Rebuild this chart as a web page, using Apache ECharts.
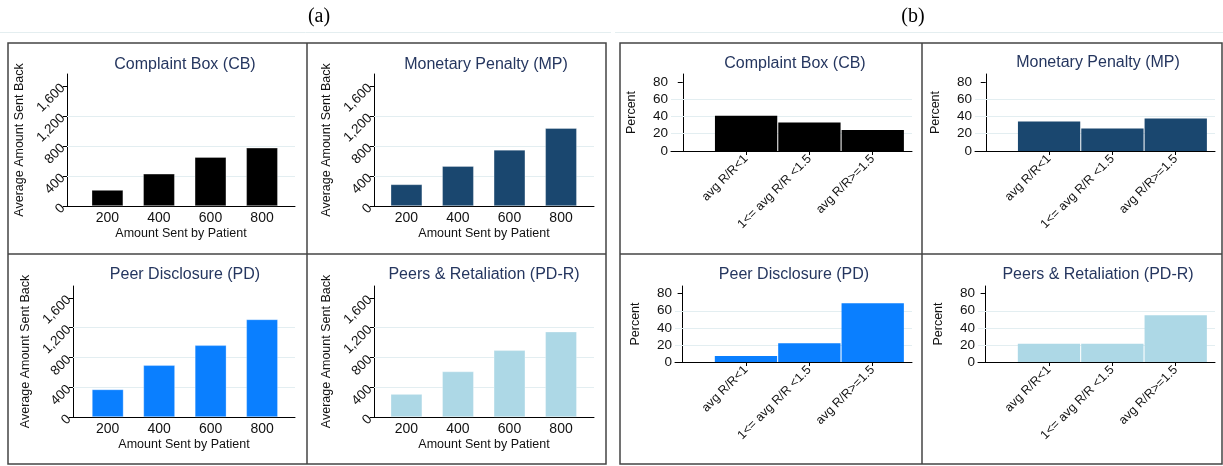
<!DOCTYPE html>
<html><head><meta charset="utf-8">
<script src="https://cdn.jsdelivr.net/npm/echarts@6/dist/echarts.min.js"></script>
<style>html,body{margin:0;padding:0;background:#fff}#c{width:1223px;height:466px}</style>
</head><body><div id="c"></div>
<script>
// ---------- data ----------
const amountsSent = [200, 400, 600, 800];
const cbBack  = [213, 430, 652, 776];
const mpBack  = [288, 532, 749, 1037];
const pdBack  = [370, 695, 963, 1311];
const pdrBack = [308, 611, 896, 1146];
const backTicks = [0, 400, 800, 1200, 1600];

const ratioBins = ['avg R/R<1', '1<= avg R/R <1.5', 'avg R/R>=1.5'];
const cbPct  = [40.6, 32.9, 24.4];
const mpPct  = [34.0, 26.0, 37.5];
const pdPct  = [7.1, 22.1, 68.7];
const pdrPct = [21.4, 21.4, 54.8];
const pctTicks = [0, 20, 40, 60, 80];

const panelTitles = ['Complaint Box (CB)', 'Monetary Penalty (MP)', 'Peer Disclosure (PD)', 'Peers & Retaliation (PD-R)'];
const colors = ['#000000', '#1a476f', '#0a7fff', '#add8e6'];

// ---------- layout ----------
const FONT = 'Liberation Sans, Arial, sans-serif';
const TXT = '#111';
const GRIDC = '#e3eef1';
const fmt = v => String(v).replace(/\B(?=(\d{3})+(?!\d))/g, ',');

const aLayouts = [
  {left: 67,  top: 74,  width: 228, height: 132, xmin: 43, tx: 185, ty: 65},
  {left: 374, top: 74,  width: 220, height: 132, xmin: 74, tx: 486, ty: 65},
  {left: 73,  top: 286, width: 222, height: 131, xmin: 65, tx: 185, ty: 275},
  {left: 374, top: 286, width: 220, height: 131, xmin: 74, tx: 484, ty: 275}
];
const bLayouts = [
  {left: 671, top: 74,  width: 241, height: 77, xmin: -0.186, tx: 795,  ty: 64},
  {left: 975, top: 74,  width: 240, height: 77, xmin: -0.17,  tx: 1098, ty: 63},
  {left: 675, top: 286, width: 237, height: 76, xmin: -0.12,  tx: 794,  ty: 275},
  {left: 978, top: 286, width: 237, height: 76, xmin: -0.12,  tx: 1098, ty: 275}
];
const aSeries = [cbBack, mpBack, pdBack, pdrBack];
const bSeries = [cbPct, mpPct, pdPct, pdrPct];

const grid = [], xAxis = [], yAxis = [], series = [], graphic = [];

aLayouts.forEach((L, i) => {
  grid.push({left: L.left, top: L.top, width: L.width, height: L.height});
  xAxis.push({
    type: 'value', gridIndex: grid.length - 1, min: L.xmin, max: 928,
    axisLine: {show: true, onZero: false, lineStyle: {color: '#000', width: 1}},
    axisTick: {show: false}, splitLine: {show: false},
    axisLabel: {customValues: amountsSent, color: TXT, fontFamily: FONT, fontSize: 14, margin: 5},
    name: 'Amount Sent by Patient', nameLocation: 'middle', nameGap: 21,
    nameTextStyle: {color: TXT, fontFamily: FONT, fontSize: 12.5}
  });
  yAxis.push({
    type: 'value', gridIndex: grid.length - 1, min: 0, max: 1760,
    axisLine: {show: true, lineStyle: {color: '#000', width: 1}},
    axisTick: {show: true, length: 4, customValues: backTicks, lineStyle: {color: '#000'}},
    splitLine: {show: false},
    axisLabel: {customValues: backTicks, rotate: 45, formatter: fmt, color: TXT, fontFamily: FONT, fontSize: 13.5, margin: 4},
    name: 'Average Amount Sent Back', nameLocation: 'middle', nameGap: 41,
    nameTextStyle: {color: TXT, fontFamily: FONT, fontSize: 12.5}
  });
  series.push({
    type: 'bar', xAxisIndex: xAxis.length - 1, yAxisIndex: yAxis.length - 1,
    barWidth: 31.5, z: 3,
    itemStyle: {color: colors[i], borderColor: 'rgba(255,255,255,0.5)', borderWidth: 0.6},
    data: amountsSent.map((x, k) => [x, aSeries[i][k]]),
    markLine: {silent: true, symbol: 'none', z: 1, label: {show: false},
      lineStyle: {color: GRIDC, width: 1, type: 'solid'}, emphasis: {disabled: true},
      data: [{yAxis: 400}, {yAxis: 800}, {yAxis: 1200}]}
  });
  graphic.push({type: 'text', x: L.tx, y: L.ty, z: 10,
    style: {text: panelTitles[i], font: '16px ' + FONT, fill: '#25365f', textAlign: 'center', textVerticalAlign: 'middle'}});
});

bLayouts.forEach((L, i) => {
  grid.push({left: L.left, top: L.top, width: L.width, height: L.height});
  xAxis.push({
    type: 'value', gridIndex: grid.length - 1, min: L.xmin, max: 3.62,
    axisLine: {show: true, onZero: false, lineStyle: {color: '#000', width: 1}},
    axisTick: {show: true, length: 4, customValues: [1, 2, 3], lineStyle: {color: '#000'}},
    splitLine: {show: false},
    axisLabel: {customValues: [1, 2, 3], rotate: 45, formatter: v => ratioBins[Math.round(v) - 1] || '',
      color: TXT, fontFamily: FONT, fontSize: 12.5, margin: 6}
  });
  yAxis.push({
    type: 'value', gridIndex: grid.length - 1, min: 0, max: 89,
    axisLine: {show: true, lineStyle: {color: '#000', width: 1}},
    axisTick: {show: true, length: 5, customValues: pctTicks, lineStyle: {color: '#000'}},
    splitLine: {show: false},
    axisLabel: {customValues: pctTicks, color: TXT, fontFamily: FONT, fontSize: 13.5, margin: 3},
    name: 'Percent', nameLocation: 'middle', nameGap: 33,
    nameTextStyle: {color: TXT, fontFamily: FONT, fontSize: 12.5}
  });
  series.push({
    type: 'bar', xAxisIndex: xAxis.length - 1, yAxisIndex: yAxis.length - 1,
    barWidth: 62.3, z: 3,
    itemStyle: {color: colors[i]},
    data: ratioBins.map((c, k) => [k + 1, bSeries[i][k]]),
    markLine: {silent: true, symbol: 'none', z: 1, label: {show: false},
      lineStyle: {color: GRIDC, width: 1, type: 'solid'}, emphasis: {disabled: true},
      data: [{yAxis: 20}, {yAxis: 40}, {yAxis: 60}]}
  });
  graphic.push({type: 'text', x: L.tx, y: L.ty, z: 10,
    style: {text: panelTitles[i], font: '16px ' + FONT, fill: '#25365f', textAlign: 'center', textVerticalAlign: 'middle'}});
});

// frames and panel labels
const frameStyle = {stroke: '#444', lineWidth: 1.5, fill: null};
graphic.push(
  {type: 'rect', shape: {x: 8, y: 43, width: 598, height: 421}, style: frameStyle, z: 0},
  {type: 'line', shape: {x1: 307, y1: 43, x2: 307, y2: 464}, style: {stroke: '#444', lineWidth: 1.5}},
  {type: 'line', shape: {x1: 8, y1: 254, x2: 606, y2: 254}, style: {stroke: '#444', lineWidth: 1.5}},
  {type: 'rect', shape: {x: 620, y: 43, width: 602, height: 421}, style: frameStyle, z: 0},
  {type: 'line', shape: {x1: 922, y1: 43, x2: 922, y2: 464}, style: {stroke: '#444', lineWidth: 1.5}},
  {type: 'line', shape: {x1: 620, y1: 254, x2: 1222, y2: 254}, style: {stroke: '#444', lineWidth: 1.5}},
  {type: 'line', shape: {x1: 0, y1: 32.5, x2: 611, y2: 32.5}, style: {stroke: '#e4eef0', lineWidth: 1}},
  {type: 'line', shape: {x1: 615, y1: 32.5, x2: 1223, y2: 32.5}, style: {stroke: '#e4eef0', lineWidth: 1}},
  {type: 'text', x: 319, y: 17, style: {text: '(a)', font: '20px "Liberation Serif", "Times New Roman", serif', fill: '#000', textAlign: 'center', textVerticalAlign: 'middle'}},
  {type: 'text', x: 913, y: 17, style: {text: '(b)', font: '20px "Liberation Serif", "Times New Roman", serif', fill: '#000', textAlign: 'center', textVerticalAlign: 'middle'}}
);

const chart = echarts.init(document.getElementById('c'), null, {renderer: 'canvas'});
chart.setOption({animation: false, backgroundColor: '#fff', grid, xAxis, yAxis, series, graphic});
</script>
</body></html>
